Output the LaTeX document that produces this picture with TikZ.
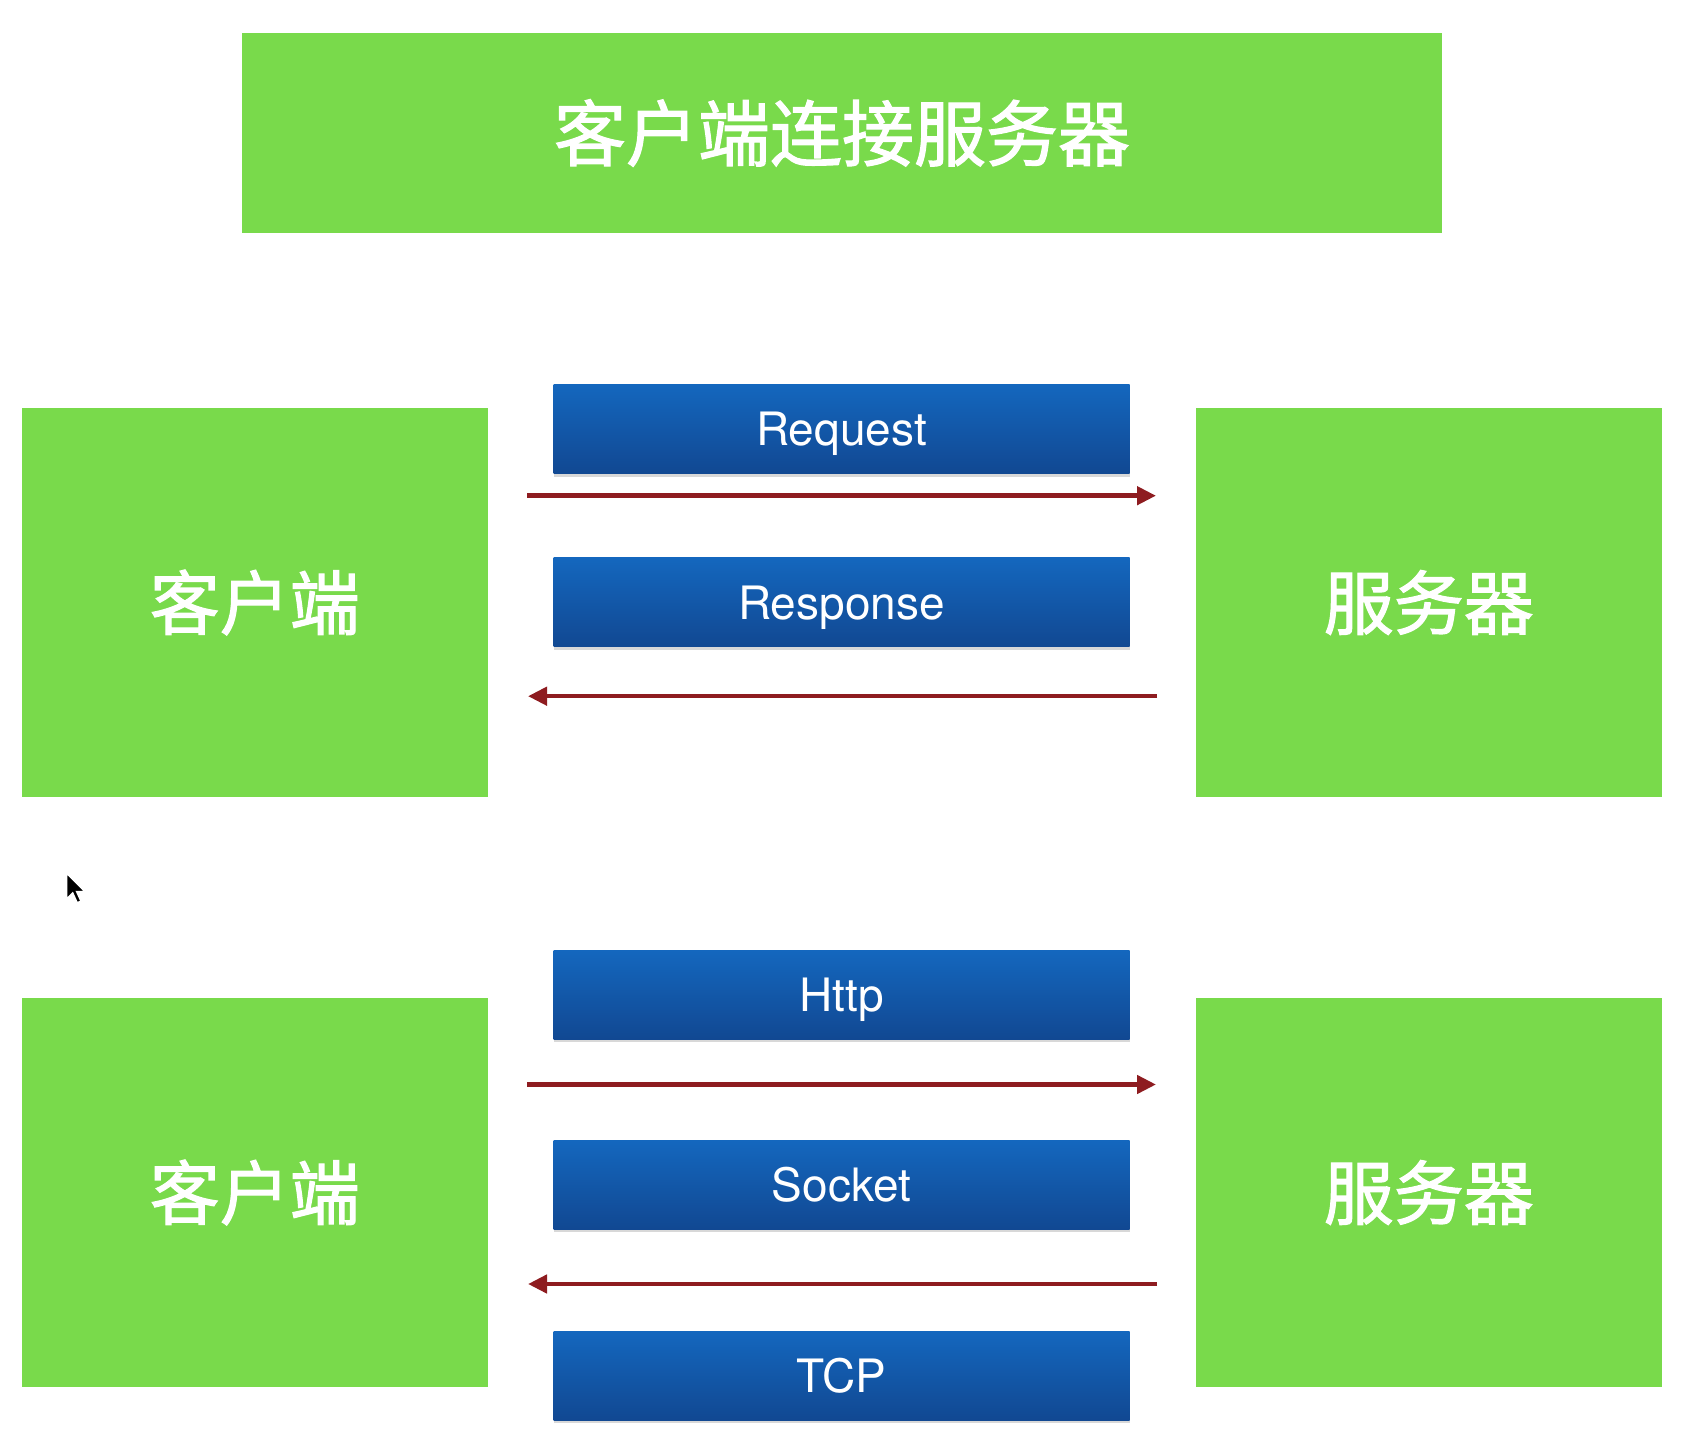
\documentclass[tikz,border=0pt]{standalone}
\usepackage{fontspec}
\setmainfont{TeX Gyre Heros}
\newfontfamily\cjk{Noto Sans CJK SC}[FakeBold=1.6]
\usetikzlibrary{arrows.meta,shadows}
\definecolor{grn}{RGB}{121,218,75}
\definecolor{bluetop}{RGB}{20,103,190}
\definecolor{bluebot}{RGB}{17,72,146}
\definecolor{arrred}{RGB}{142,28,32}
\tikzset{
  greenbox/.style={draw=none, fill=grn, inner sep=0pt, text=white,
    font=\cjk\fontsize{70}{80}\selectfont},
  bluebox/.style={draw=none, top color=bluetop, bottom color=bluebot,
    minimum width=576pt, minimum height=89pt, inner sep=0pt, text=white,
    text depth=0pt,
    font=\fontsize{46}{52}\selectfont,
    drop shadow={opacity=0.3, shadow xshift=0pt, shadow yshift=-3pt}},
  arr/.style={draw=arrred, line width=4.5pt, -{Triangle[length=19pt,width=18pt]}}
}
\begin{document}
\begin{tikzpicture}[x=1pt,y=-1pt]
\useasboundingbox (0,0) rectangle (1682,1434);
\fill[white] (0,0) rectangle (1682,1434);

\node[greenbox, minimum width=1199.5pt, minimum height=199.5pt,
  font=\cjk\fontsize{72}{80}\selectfont] (title) at (842,133) {客户端连接服务器};

\node[greenbox, minimum width=466.5pt, minimum height=388.4pt] (cl1) at (254.75,602.5) {客户端};
\node[greenbox, minimum width=465.6pt, minimum height=388.4pt] (sv1) at (1428.8,602.5) {服务器};
\node[greenbox, minimum width=466.5pt, minimum height=388.4pt] (cl2) at (254.75,1192.5) {客户端};
\node[greenbox, minimum width=465.6pt, minimum height=388.4pt] (sv2) at (1428.8,1192.5) {服务器};

\node[bluebox] (req) at (841.5,429) {Request};
\node[bluebox] (resp) at (841.5,602.3) {Response};
\node[bluebox] (http) at (841.5,994.9) {Http};
\node[bluebox] (sock) at (841.5,1184.8) {Socket};
\node[bluebox] (tcp) at (841.5,1375.7) {TCP};

\coordinate (a1s) at (527,495.7);
\coordinate (a1e) at (1156,495.7);
\coordinate (a2s) at (1157,696.2);
\coordinate (a2e) at (528,696.2);
\coordinate (a3s) at (527,1084.5);
\coordinate (a3e) at (1156,1084.5);
\coordinate (a4s) at (1157,1284);
\coordinate (a4e) at (528,1284);
\draw[arr] (a1s) -- (a1e);
\draw[arr] (a2s) -- (a2e);
\draw[arr] (a3s) -- (a3e);
\draw[arr] (a4s) -- (a4e);

% mouse cursor
\coordinate (cur) at (66.5,873);
\filldraw[fill=black, draw=white, line width=1.5pt, shift={(cur)}, scale=1.45]
  (0,0) -- (0,18) -- (4.3,13.8) -- (7.4,20.6) -- (10,19.4) -- (7,12.8) -- (12.8,12.8) -- cycle;
\end{tikzpicture}
\end{document}
